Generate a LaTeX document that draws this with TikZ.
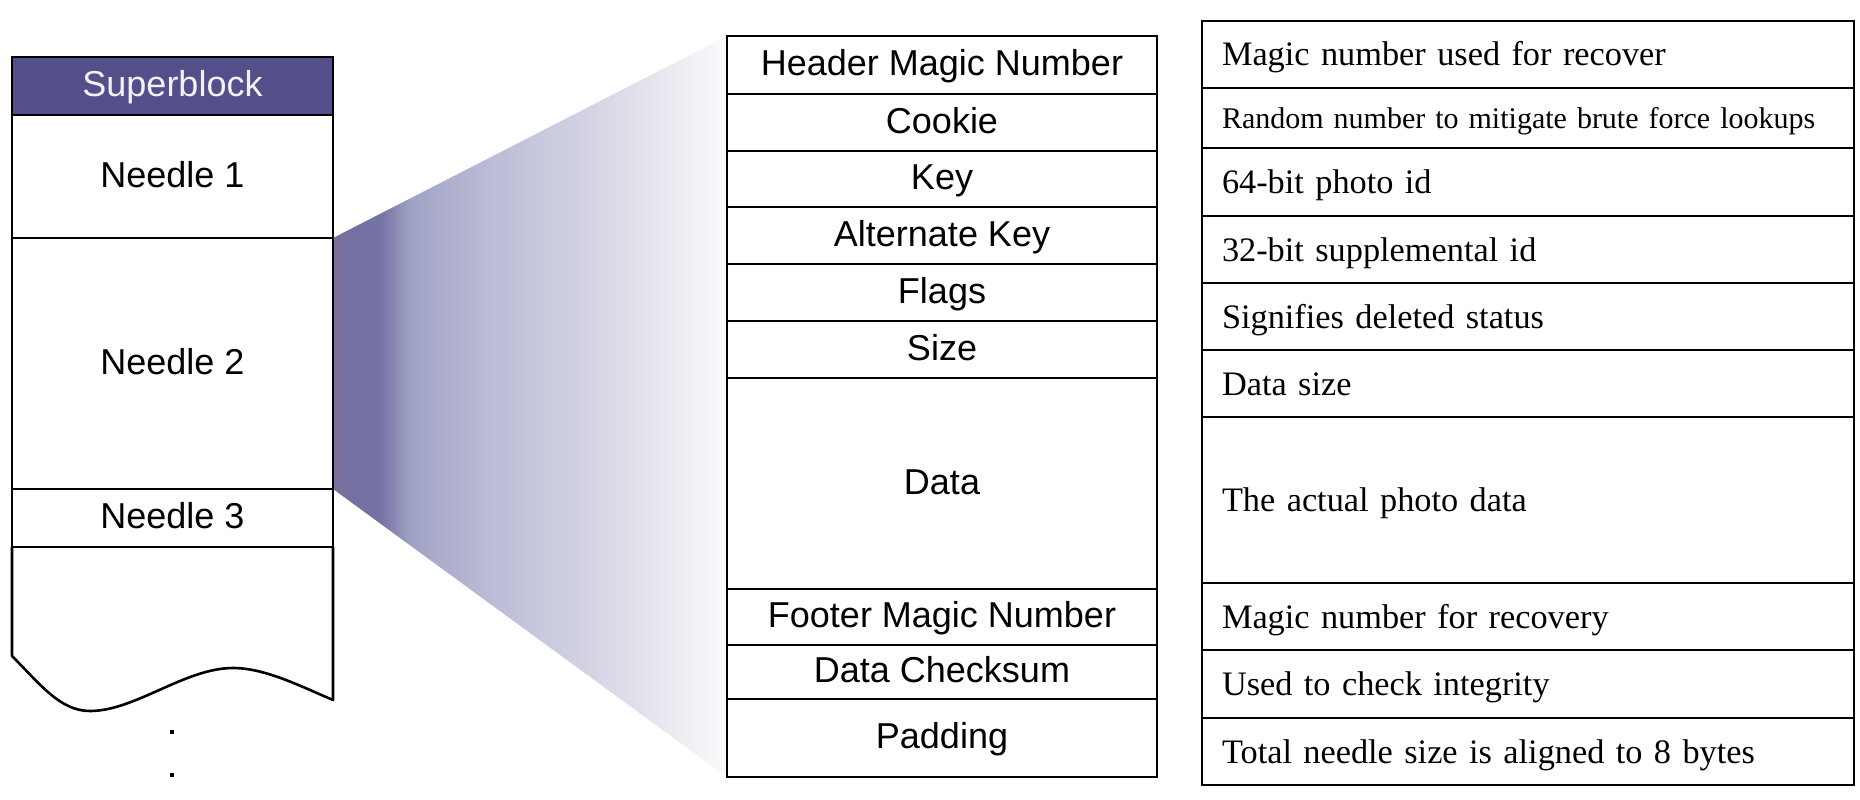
\documentclass[tikz,border=0pt]{standalone}
\usepackage{fontspec}
\newfontfamily\cellsans{Liberation Sans}
\newfontfamily\cellserif{Liberation Serif}

\definecolor{sbfill}{HTML}{524F8A}
\definecolor{sbtext}{HTML}{F2F2F8}
\definecolor{fa}{HTML}{7A7099}
\definecolor{fb}{HTML}{7370A3}
\definecolor{fc}{HTML}{7572A4}
\definecolor{fd}{HTML}{A0A2C5}
\definecolor{fe}{HTML}{B0B1CF}
\definecolor{ff}{HTML}{C3C4DA}
\definecolor{fg}{HTML}{D3D3E4}
\definecolor{fh}{HTML}{E5E5EE}
\definecolor{fi}{HTML}{FBFBFD}

\begin{document}
\begin{tikzpicture}[x=1pt,y=-1pt,
  frame/.style={draw=black, line width=2.6pt, outer sep=0pt},
  lcell/.style={frame, minimum width=321pt, inner sep=0pt,
    text height=21pt, text depth=0pt,
    font=\cellsans\fontsize{36}{40}\selectfont},
  mcell/.style={frame, minimum width=430pt, inner sep=0pt,
    text height=21pt, text depth=0pt,
    font=\cellsans\fontsize{36}{40}\selectfont},
  rcell/.style={frame, minimum width=652pt, text width=612pt, align=left,
    inner xsep=20pt, inner ysep=0pt, text height=23pt, text depth=0pt,
    font=\cellserif\fontsize{34.3}{38}\selectfont},
  smalltext/.style={text height=20pt, font=\cellserif\fontsize{30}{34}\selectfont},
]
\useasboundingbox (0,0) rectangle (1860,800);

% ---- volume column (left) ----
\node[lcell, minimum height=58pt, fill=sbfill, text=sbtext] (sb) at (172.5,86) {Superblock};
\node[lcell, minimum height=123pt] (n1) at (172.5,176.5) {Needle 1};
\node[lcell, minimum height=251pt] (n2) at (172.5,363.5) {Needle 2};
\node[lcell, minimum height=58pt]  (n3) at (172.5,518) {Needle 3};

% open-ended remainder of the volume
\draw[line width=2.6pt, line join=round]
  (n3.south west) -- (12,656)
  .. controls (40,684) and (60,711) .. (90,711)
  .. controls (135,711) and (185,668) .. (233,668)
  .. controls (265,668) and (300,686) .. (333,700)
  -- (n3.south east);
\fill (169.5,730) rectangle (173.5,734);
\fill (169.5,773) rectangle (173.5,777);

% ---- needle layout (middle) ----
\node[mcell, minimum height=58pt]  (hm)  at (942,65)    {Header Magic Number};
\node[mcell, minimum height=57pt]  (ck)  at (942,122.5) {Cookie};
\node[mcell, minimum height=56pt]  (ky)  at (942,179)   {Key};
\node[mcell, minimum height=57pt]  (ak)  at (942,235.5) {Alternate Key};
\node[mcell, minimum height=57pt]  (fl)  at (942,292.5) {Flags};
\node[mcell, minimum height=57pt]  (sz)  at (942,349.5) {Size};
\node[mcell, minimum height=211pt] (dt)  at (942,483.5) {Data};
\node[mcell, minimum height=56pt]  (fm)  at (942,617)   {Footer Magic Number};
\node[mcell, minimum height=54pt]  (cs)  at (942,672)   {Data Checksum};
\node[mcell, minimum height=78pt]  (pd)  at (942,738)   {Padding};

% ---- zoom wedge from Needle 2 to the needle layout ----
\begin{scope}
  \clip (n2.north east) -- (hm.north west) -- (pd.south west) -- (n2.south east) -- cycle;
  \shade[left color=fa, right color=fb] (333,0) rectangle (353.5,800);
  \shade[left color=fb, right color=fc] (353,0) rectangle (380.5,800);
  \shade[left color=fc, right color=fd] (380,0) rectangle (410.5,800);
  \shade[left color=fd, right color=fe] (410,0) rectangle (453.5,800);
  \shade[left color=fe, right color=ff] (453,0) rectangle (520.5,800);
  \shade[left color=ff, right color=fg] (520,0) rectangle (587.5,800);
  \shade[left color=fg, right color=fh] (587,0) rectangle (653.5,800);
  \shade[left color=fh, right color=fi] (653,0) rectangle (727,800);
\end{scope}
% redraw the borders touching the wedge
\draw[line width=2.6pt] (n1.south east) -- (n3.north east);
\draw[line width=2.6pt] (hm.north west) -- (pd.south west);

% ---- field descriptions (right) ----
\node[rcell, minimum height=67pt]  (r1)  at (1528,54.5)  {Magic number used for recover};
\node[rcell, minimum height=60pt, smalltext] (r2) at (1528,118) {Random number to mitigate brute force lookups};
\node[rcell, minimum height=68pt]  (r3)  at (1528,182)   {64-bit photo id};
\node[rcell, minimum height=67pt]  (r4)  at (1528,249.5) {32-bit supplemental id};
\node[rcell, minimum height=67pt]  (r5)  at (1528,316.5) {Signifies deleted status};
\node[rcell, minimum height=67pt]  (r6)  at (1528,383.5) {Data size};
\node[rcell, minimum height=166pt] (r7)  at (1528,500)   {The actual photo data};
\node[rcell, minimum height=67pt]  (r8)  at (1528,616.5) {Magic number for recovery};
\node[rcell, minimum height=68pt]  (r9)  at (1528,684)   {Used to check integrity};
\node[rcell, minimum height=67pt]  (r10) at (1528,751.5) {Total needle size is aligned to 8 bytes};
\end{tikzpicture}
\end{document}
